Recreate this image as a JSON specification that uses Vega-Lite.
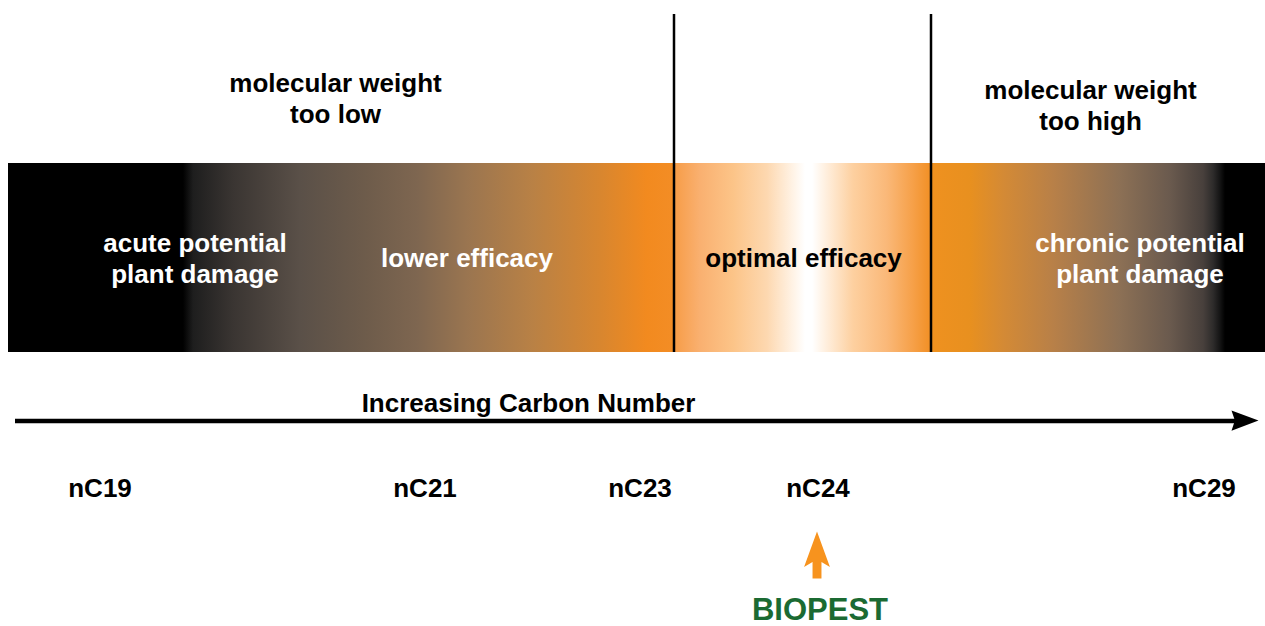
{
  "$schema": "https://vega.github.io/schema/vega-lite/v6.json",
  "width": 1265,
  "height": 626,
  "padding": 0,
  "autosize": {"type": "none"},
  "background": "white",
  "config": {"view": {"stroke": null}},
  "datasets": {
    "band": [{"x": 8, "x2": 1265, "y": 163, "y2": 352}],
    "dividers": [{"x": 674, "y": 14, "y2": 352}, {"x": 931, "y": 14, "y2": 352}],
    "axisline": [{"x": 15, "x2": 1240, "y": 421}],
    "arrowhead": [{"x": 1245, "y": 420.5}],
    "biopestarrow": [{"x": 817, "y": 555}],
    "headings": [
      {"label": "molecular weight\ntoo low", "x": 335.5, "y": 91.5},
      {"label": "molecular weight\ntoo high", "x": 1090.5, "y": 98.5},
      {"label": "Increasing Carbon Number", "x": 528.5, "y": 411.5},
      {"label": "nC19", "x": 100, "y": 496.5},
      {"label": "nC21", "x": 425, "y": 496.5},
      {"label": "nC23", "x": 640, "y": 496.5},
      {"label": "nC24", "x": 818, "y": 496.5},
      {"label": "nC29", "x": 1204, "y": 496.5}
    ],
    "inbarwhite": [
      {"label": "acute potential\nplant damage", "x": 195, "y": 251.5},
      {"label": "lower efficacy", "x": 467, "y": 266.5},
      {"label": "chronic potential\nplant damage", "x": 1140, "y": 251.5}
    ],
    "inbarblack": [{"label": "optimal efficacy", "x": 803.5, "y": 266.5}],
    "brand": [{"label": "BIOPEST", "x": 820, "y": 620}]
  },
  "encoding": {
    "x": {"field": "x", "type": "quantitative", "scale": {"domain": [0, 1265], "nice": false, "zero": false}, "axis": null},
    "y": {"field": "y", "type": "quantitative", "scale": {"domain": [0, 626], "nice": false, "zero": false, "reverse": true}, "axis": null}
  },
  "layer": [
    {
      "data": {"name": "band"},
      "mark": {
        "type": "rect",
        "stroke": null,
        "fill": {
          "gradient": "linear",
          "x1": 0, "y1": 0, "x2": 1, "y2": 0,
          "stops": [
            {"offset": 0, "color": "#000000"},
            {"offset": 0.1392, "color": "#000000"},
            {"offset": 0.1472, "color": "#1e1e1e"},
            {"offset": 0.1790, "color": "#3a3532"},
            {"offset": 0.2323, "color": "#5a5048"},
            {"offset": 0.2856, "color": "#6e5c4b"},
            {"offset": 0.3254, "color": "#7e6650"},
            {"offset": 0.3652, "color": "#9a7550"},
            {"offset": 0.4177, "color": "#b98145"},
            {"offset": 0.4710, "color": "#d8862f"},
            {"offset": 0.5083, "color": "#f28a1f"},
            {"offset": 0.5290, "color": "#f38d25"},
            {"offset": 0.5306, "color": "#f79d48"},
            {"offset": 0.5505, "color": "#f9b070"},
            {"offset": 0.5768, "color": "#fcc488"},
            {"offset": 0.6038, "color": "#fdd8b0"},
            {"offset": 0.6261, "color": "#fff5ea"},
            {"offset": 0.6341, "color": "#ffffff"},
            {"offset": 0.6397, "color": "#ffffff"},
            {"offset": 0.6500, "color": "#fff0e0"},
            {"offset": 0.6722, "color": "#fdd0a0"},
            {"offset": 0.6993, "color": "#fab878"},
            {"offset": 0.7200, "color": "#f6a048"},
            {"offset": 0.7327, "color": "#f29128"},
            {"offset": 0.7351, "color": "#ef911f"},
            {"offset": 0.7653, "color": "#e8901f"},
            {"offset": 0.7916, "color": "#d48a35"},
            {"offset": 0.8313, "color": "#b88048"},
            {"offset": 0.8846, "color": "#8c7055"},
            {"offset": 0.9244, "color": "#6a5a4e"},
            {"offset": 0.9507, "color": "#48403c"},
            {"offset": 0.9586, "color": "#2e2c2b"},
            {"offset": 0.9642, "color": "#141414"},
            {"offset": 0.9682, "color": "#000000"},
            {"offset": 1, "color": "#000000"}
          ]
        }
      },
      "encoding": {
        "x2": {"field": "x2"},
        "y2": {"field": "y2"}
      }
    },
    {
      "data": {"name": "dividers"},
      "mark": {"type": "rule", "color": "black", "strokeWidth": 2.5},
      "encoding": {"y2": {"field": "y2"}}
    },
    {
      "data": {"name": "axisline"},
      "mark": {"type": "rule", "color": "black", "strokeWidth": 4.5},
      "encoding": {"x2": {"field": "x2"}}
    },
    {
      "data": {"name": "arrowhead"},
      "mark": {"type": "point", "shape": "M-1,-0.75L1,0L-1,0.75L-0.75,0Z", "size": 729, "filled": true, "color": "black", "opacity": 1, "strokeWidth": 0}
    },
    {
      "data": {"name": "biopestarrow"},
      "mark": {"type": "point", "shape": "M0,-1L0.55,0.51L0.19,0.3L0.19,1L-0.19,1L-0.19,0.3L-0.55,0.51Z", "size": 2209, "filled": true, "color": "#f7931e", "opacity": 1, "strokeWidth": 0}
    },
    {
      "data": {"name": "headings"},
      "mark": {"type": "text", "font": "Liberation Sans", "fontWeight": "bold", "fontSize": 26, "color": "black", "align": "center", "baseline": "alphabetic", "lineBreak": "\n", "lineHeight": 31},
      "encoding": {"text": {"field": "label"}}
    },
    {
      "data": {"name": "inbarwhite"},
      "mark": {"type": "text", "font": "Liberation Sans", "fontWeight": "bold", "fontSize": 26, "color": "white", "align": "center", "baseline": "alphabetic", "lineBreak": "\n", "lineHeight": 31},
      "encoding": {"text": {"field": "label"}}
    },
    {
      "data": {"name": "inbarblack"},
      "mark": {"type": "text", "font": "Liberation Sans", "fontWeight": "bold", "fontSize": 26, "color": "black", "align": "center", "baseline": "alphabetic"},
      "encoding": {"text": {"field": "label"}}
    },
    {
      "data": {"name": "brand"},
      "mark": {"type": "text", "font": "Liberation Sans", "fontWeight": "bold", "fontSize": 31, "color": "#1b6a32", "align": "center", "baseline": "alphabetic"},
      "encoding": {"text": {"field": "label"}}
    }
  ]
}
